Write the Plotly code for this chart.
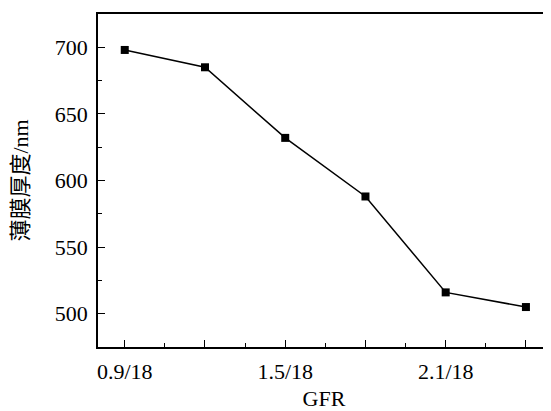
import plotly.graph_objects as go

gfr = [0.9, 1.2, 1.5, 1.8, 2.1, 2.4]
thickness = [698, 685, 632, 588, 516, 505]
x_tick_vals = [0.9, 1.2, 1.5, 1.8, 2.1, 2.4]
x_tick_text = ["0.9/18", "", "1.5/18", "", "2.1/18", ""]
x_minor_vals = [1.05, 1.35, 1.65, 1.95, 2.25]
y_tick_vals = [500, 550, 600, 650, 700]
y_minor_vals = [525, 575, 625, 675]

serif = "Liberation Serif, DejaVu Serif, serif"

fig = go.Figure()
fig.add_trace(go.Scatter(
    x=gfr, y=thickness, mode="lines+markers",
    line=dict(color="black", width=1.5),
    marker=dict(symbol="square", size=8, color="black"),
    showlegend=False,
))

# page body has an 8px default margin, so the figure is sized to fit the window
fig.update_layout(
    width=543, height=403,
    margin=dict(l=90, r=1, t=6, b=64),
    plot_bgcolor="white", paper_bgcolor="white",
    font=dict(family=serif, size=22, color="black"),
)
fig.update_xaxes(
    range=[0.8, 2.49], automargin=False,
    tickmode="array", tickvals=x_tick_vals, ticktext=x_tick_text,
    ticks="inside", ticklen=7, tickwidth=1.3, tickcolor="black",
    minor=dict(tickvals=x_minor_vals, ticks="inside", ticklen=4, tickwidth=1.3, tickcolor="black"),
    showline=True, linecolor="black", linewidth=1.5, mirror=True,
    showgrid=False, zeroline=False,
    ticklabelstandoff=4,
    tickfont=dict(family=serif, size=22),
    title=dict(text="GFR", font=dict(family=serif, size=22), standoff=12),
)
fig.update_yaxes(
    range=[475, 725], automargin=False,
    tickmode="array", tickvals=y_tick_vals,
    ticks="inside", ticklen=7, tickwidth=1.3, tickcolor="black",
    minor=dict(tickvals=y_minor_vals, ticks="inside", ticklen=4, tickwidth=1.3, tickcolor="black"),
    showline=True, linecolor="black", linewidth=1.5, mirror=False,
    showgrid=False, zeroline=False,
    ticklabelstandoff=4,
    tickfont=dict(family=serif, size=22),
    title=dict(text="薄膜厚度/nm", font=dict(family=serif + ", Noto Sans CJK SC", size=22), standoff=20),
)

fig.write_html("out.html")
